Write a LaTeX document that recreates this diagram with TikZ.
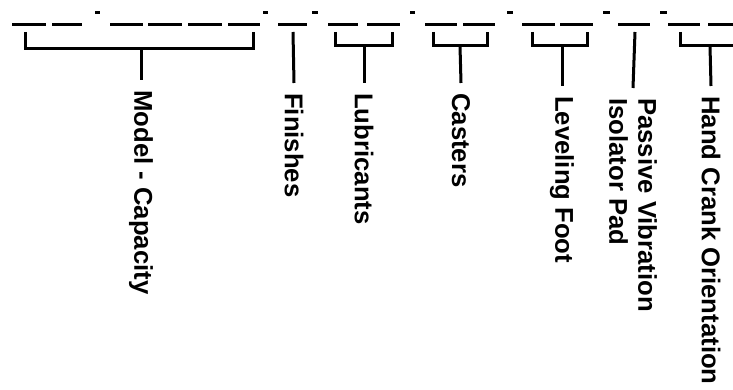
\documentclass[tikz,border=0pt]{standalone}
\usepackage{fontspec}
\setmainfont{Liberation Sans}
\usepackage{tikz}
\tikzstyle{field} = [rotate=-90, anchor=west, inner xsep=10pt, inner ysep=0pt, align=left, font=\fontsize{25.7}{29}\selectfont\bfseries]
\tikzstyle{blank} = [draw, line width=3pt]
\tikzstyle{sep} = [draw, line width=3pt]
\tikzstyle{brace} = [draw, line width=3pt]
\tikzstyle{line} = [draw, line width=3pt]

\begin{document}
\begin{tikzpicture}[x=1pt, y=-1pt]
					\useasboundingbox (0,0) rectangle (733,390);
					% blanks of the model number
					\path [blank] (12,25) -- (46,25);
					\path [blank] (52,25) -- (82,25);
					\path [sep] (95,13) -- (100,13);
					\path [blank] (110,25) -- (143,25);
					\path [blank] (148,25) -- (182,25);
					\path [blank] (188,25) -- (222,25);
					\path [blank] (228,25) -- (260,25);
					\path [sep] (263,13) -- (268,13);
					\path [blank] (278,25) -- (307,25);
					\path [sep] (312,13) -- (318,13);
					\path [blank] (328,25) -- (358,25);
					\path [blank] (367,25) -- (400,25);
					\path [sep] (410,13) -- (415,13);
					\path [blank] (425,25) -- (457,25);
					\path [blank] (463,25) -- (495,25);
					\path [sep] (507,13) -- (513,13);
					\path [blank] (522,25) -- (555,25);
					\path [blank] (560,25) -- (593,25);
					\path [sep] (603,13) -- (610,13);
					\path [blank] (618,25) -- (650,25);
					\path [sep] (660,13) -- (667,13);
					\path [blank] (668,25) -- (700,25);
					\path [blank] (708,25) -- (740,25);
					% brackets
					\path [brace] (25,32) |- (253,49) -- (253,32);
					\path [brace] (335,32) |- (392,46) -- (392,32);
					\path [brace] (433,32) |- (487,46) -- (487,32);
					\path [brace] (532,32) |- (587,46) -- (587,32);
					\path [brace] (680,32) |- (740,46) -- (740,32);
					\coordinate (model brace) at (141,49);
					\coordinate (finish brace) at (293,32);
					\coordinate (lube brace) at (364,46);
					\coordinate (caster brace) at (460,46);
					\coordinate (foot brace) at (562,46);
					\coordinate (pad brace) at (635,32);
					\coordinate (crank brace) at (710,46);
					% labels
					\node [field] (model) at (141,80) {Model - Capacity};
					\node [field] (finish) at (294,83) {Finishes};
					\node [field] (lube) at (364,83) {Lubricants};
					\node [field] (caster) at (461,83) {Casters};
					\node [field] (foot) at (562,86) {Leveling Foot};
					\node [field] (pad) at (633,88) {Passive Vibration\\Isolator Pad};
					\node [field] (crank) at (711,86) {Hand Crank Orientation};
					\path [line] (model brace) -- (model.west);
					\path [line] (finish brace) -- (finish.west);
					\path [line] (lube brace) -- (lube.west);
					\path [line] (caster brace) -- (caster.west);
					\path [line] (foot brace) -- (foot.west);
					\path [line] (pad brace) -- (pad.west);
					\path [line] (crank brace) -- (crank.west);
				\end{tikzpicture}
\end{document}
